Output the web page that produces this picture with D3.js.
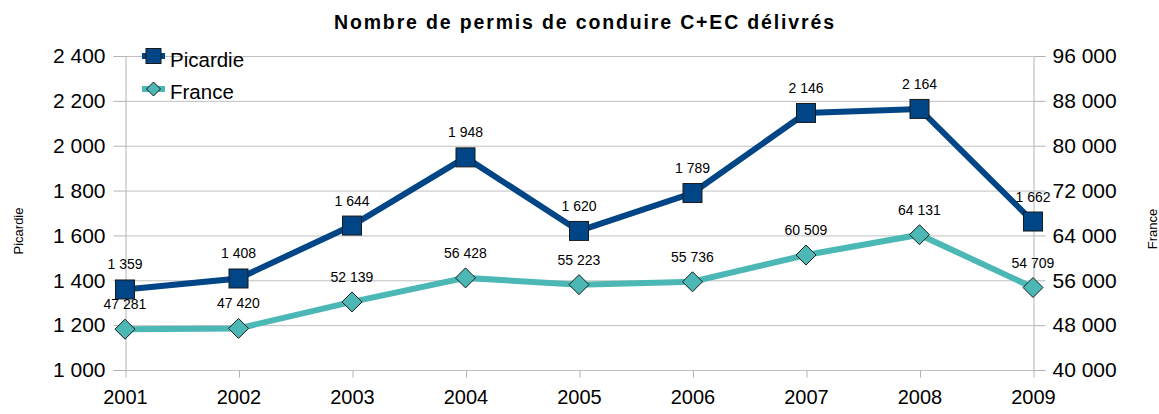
<!DOCTYPE html>
<html>
<head>
<meta charset="utf-8">
<script src="https://cdn.jsdelivr.net/npm/d3@7"></script>
<style>
  body { margin: 0; background: #fff; }
  text { font-family: "Liberation Sans", Arial, sans-serif; fill: #000; }
</style>
</head>
<body>
<script>
var years = ["2001", "2002", "2003", "2004", "2005", "2006", "2007", "2008", "2009"]
var picardie = [1359, 1408, 1644, 1948, 1620, 1789, 2146, 2164, 1662]
var france = [47281, 47420, 52139, 56428, 55223, 55736, 60509, 64131, 54709]
var leftTicks = [1000, 1200, 1400, 1600, 1800, 2000, 2200, 2400]
var rightTicks = [40000, 48000, 56000, 64000, 72000, 80000, 88000, 96000]

var width = 1159, height = 414
var margin = { top: 56, right: 126, bottom: 44, left: 125 }
var colPic = "#004586", colFr = "#4bb8b6"

var fmt = v => d3.format(",")(v).replace(/,/g, " ")

var svg = d3.select("body").append("svg")
    .attr("width", width)
    .attr("height", height)

var xScale = d3.scalePoint()
    .domain(years)
    .range([margin.left, width - margin.right])

var yLeft = d3.scaleLinear()
    .domain([1000, 2400])
    .range([height - margin.bottom, margin.top])

var yRight = d3.scaleLinear()
    .domain([40000, 96000])
    .range([height - margin.bottom, margin.top])

// grid
svg.append("g")
    .selectAll("line")
    .data(leftTicks)
    .join("line")
    .attr("x1", margin.left)
    .attr("x2", width - margin.right)
    .attr("y1", d => yLeft(d) + 0.5)
    .attr("y2", d => yLeft(d) + 0.5)
    .attr("stroke", "#c0c0c0")

// axes
var axL = svg.append("g")
    .attr("transform", "translate(" + (margin.left + 0.5) + ",0)")
    .call(d3.axisLeft(yLeft).tickValues(leftTicks).tickFormat(fmt).tickSize(12).tickPadding(8))
var axR = svg.append("g")
    .attr("transform", "translate(" + (width - margin.right + 0.5) + ",0)")
    .call(d3.axisRight(yRight).tickValues(rightTicks).tickFormat(fmt).tickSize(12).tickPadding(7))
var axB = svg.append("g")
    .attr("transform", "translate(0," + (height - margin.bottom + 0.5) + ")")
    .call(d3.axisBottom(xScale).tickSize(7).tickPadding(12))

;[axL, axR, axB].forEach(a => {
    a.select(".domain").attr("stroke", "#b3b3b3")
    a.selectAll(".tick line").attr("stroke", "#b3b3b3")
    a.selectAll(".tick text")
        .style("font-family", "'Liberation Sans', Arial, sans-serif")
        .style("font-size", "21px")
        .attr("fill", "#000")
})
axB.selectAll(".tick text").style("font-size", "20px")
axB.select(".domain").remove()
axB.selectAll(".tick line").attr("transform", "translate(0.5,0)")

// lines
var linePic = d3.line().x((d, i) => xScale(years[i])).y(d => yLeft(d))
var lineFr = d3.line().x((d, i) => xScale(years[i])).y(d => yRight(d))

svg.append("path")
    .datum(france)
    .attr("d", lineFr)
    .attr("fill", "none")
    .attr("stroke", colFr)
    .attr("stroke-width", 6)

svg.append("path")
    .datum(picardie)
    .attr("d", linePic)
    .attr("fill", "none")
    .attr("stroke", colPic)
    .attr("stroke-width", 6)

// markers
function diamond(sel, s) {
    sel.attr("points", `0,${-s} ${s},0 0,${s} ${-s},0`)
}

svg.append("g")
    .selectAll("polygon")
    .data(france)
    .join("polygon")
    .attr("transform", (d, i) => "translate(" + xScale(years[i]) + "," + yRight(d) + ")")
    .call(diamond, 10)
    .attr("fill", colFr)
    .attr("stroke", "#1a1a1a")
    .attr("stroke-width", 1)

svg.append("g")
    .selectAll("rect")
    .data(picardie)
    .join("rect")
    .attr("x", (d, i) => xScale(years[i]) - 9.5)
    .attr("y", d => yLeft(d) - 9.5)
    .attr("width", 19)
    .attr("height", 19)
    .attr("fill", colPic)
    .attr("stroke", "#1a1a1a")
    .attr("stroke-width", 1)

// data labels
svg.append("g")
    .selectAll("text")
    .data(france)
    .join("text")
    .attr("x", (d, i) => xScale(years[i]))
    .attr("y", d => yRight(d) - 20)
    .attr("text-anchor", "middle")
    .style("font-size", "14px")
    .text(fmt)

svg.append("g")
    .selectAll("text")
    .data(picardie)
    .join("text")
    .attr("x", (d, i) => xScale(years[i]))
    .attr("y", d => yLeft(d) - 20)
    .attr("text-anchor", "middle")
    .style("font-size", "14px")
    .text(fmt)

// title
svg.append("text")
    .attr("x", 584)
    .attr("y", 29)
    .attr("text-anchor", "middle")
    .attr("textLength", 500)
    .attr("lengthAdjust", "spacing")
    .style("font-size", "19.5px")
    .style("font-weight", "bold")
    .text("Nombre de permis de conduire C+EC délivrés")

// axis titles
svg.append("text")
    .attr("transform", "translate(23,231) rotate(-90)")
    .attr("text-anchor", "middle")
    .style("font-size", "13px")
    .text("Picardie")

svg.append("text")
    .attr("transform", "translate(1157,229) rotate(-90)")
    .attr("text-anchor", "middle")
    .style("font-size", "13px")
    .text("France")

// legend
var legend = svg.append("g").attr("transform", "translate(142,0)")
var items = [
    { name: "Picardie", color: colPic, y: 56, ty: 67, shape: "square" },
    { name: "France", color: colFr, y: 89, ty: 98.5, shape: "diamond" }
]
items.forEach(it => {
    legend.append("line")
        .attr("x1", 0).attr("x2", 23)
        .attr("y1", it.y).attr("y2", it.y)
        .attr("stroke", it.color)
        .attr("stroke-width", 6)
    if (it.shape === "square") {
        legend.append("rect")
            .attr("x", 4).attr("y", it.y - 7.5)
            .attr("width", 15).attr("height", 15)
            .attr("fill", it.color)
            .attr("stroke", "#1a1a1a")
    } else {
        legend.append("polygon")
            .attr("transform", "translate(11.5," + it.y + ")")
            .call(diamond, 7)
            .attr("fill", it.color)
            .attr("stroke", "#1a1a1a")
    }
    legend.append("text")
        .attr("x", 28)
        .attr("y", it.ty)
        .style("font-size", "20.5px")
        .text(it.name)
})
</script>
</body>
</html>
